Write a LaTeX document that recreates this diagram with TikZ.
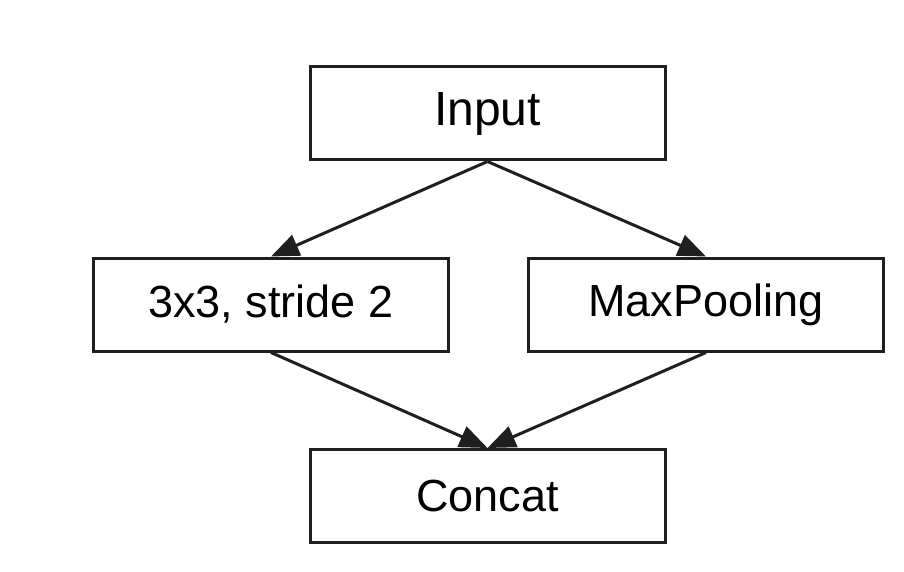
\documentclass[tikz,border=0pt]{standalone}
\usepackage{fontspec}
\setmainfont{Liberation Sans}
\usetikzlibrary{arrows.meta}
\begin{document}
\begin{tikzpicture}[x=1pt,y=1pt,line width=1.5pt,draw={black!88}]

	\def \top{-56.75}
	\def \middle{-152.25}
	\def \bottom{-248}
	\tikzstyle{layer}=[draw,rectangle,minimum width=177.5pt,minimum height=46.5pt,inner sep=0pt,font=\fontsize{22.5}{27}\selectfont]
	\tikzstyle{flow}=[-{Triangle[length=14pt,width=11pt]}]
	\useasboundingbox (0,0) rectangle (452,-286);

	% layers
	\node[layer,font=\fontsize{24}{28}\selectfont] (input)	at (243.75,\top)	{Input};
	\node[layer] 	(conv)	at (135.5,\middle)	{3x3, stride 2};
	\node[layer] 	(pool)	at (353,\middle)	{MaxPooling};
	\node[layer] 	(concat)	at (243.75,\bottom)	{Concat};

	% connections
	\draw[flow] (input.south) -- (conv.north);
	\draw[flow] (input.south) -- (pool.north);
	\draw[flow] (conv.south) -- (concat.north);
	\draw[flow] (pool.south) -- (concat.north);
\end{tikzpicture}
\end{document}
